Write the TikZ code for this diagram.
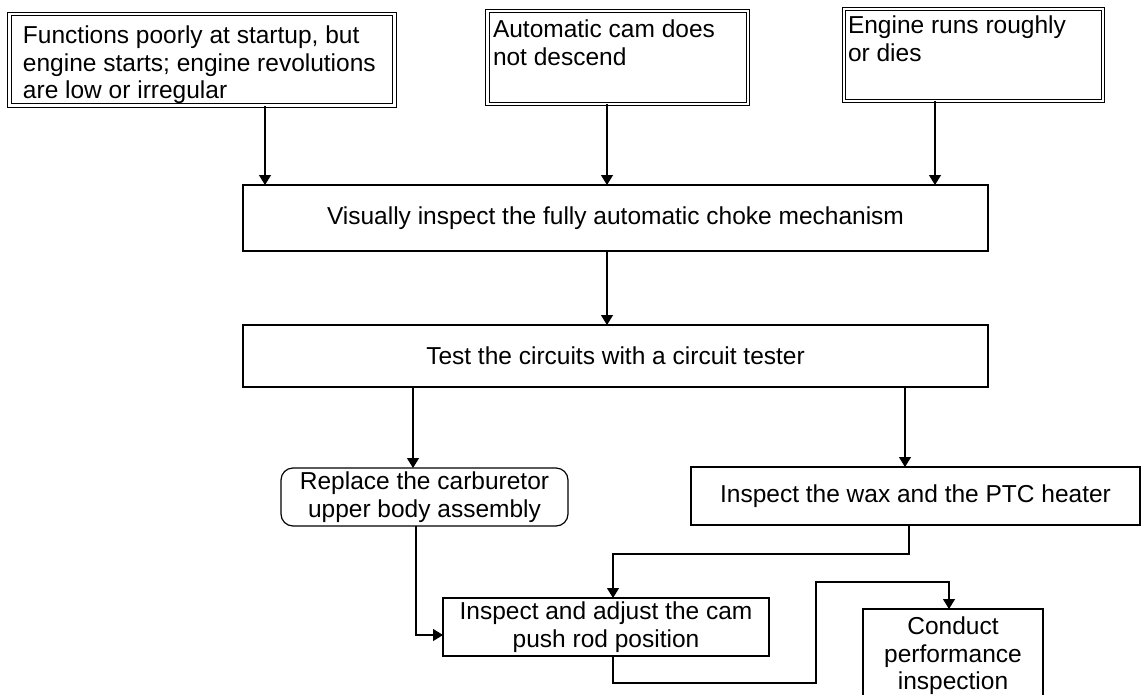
\documentclass[tikz,border=0pt]{standalone}
\usepackage{fontspec}
\setmainfont{Liberation Sans}
\usetikzlibrary{arrows.meta}
\begin{document}
\begin{tikzpicture}[x=1pt,y=-1pt,
  every node/.style={font=\fontsize{24.5}{27.5}\selectfont, inner sep=0pt, outer sep=0pt},
  dbox/.style={draw, line width=0.95pt, double, double distance=2.8pt},
  sbox/.style={draw, line width=1.2pt},
  rbox/.style={draw, line width=1.2pt, rounded corners=12pt},
  arr/.style={line width=1.2pt, -{Triangle[width=12pt,length=10pt]}},
  lin/.style={line width=1.2pt}]
\useasboundingbox (0,0) rectangle (1141,694);
\clip (0,0) rectangle (1141,694);
% top boxes (double frames)
\node[dbox, minimum width=385pt, minimum height=91.5pt] (A) at (202,59.75) {};
\node[anchor=north west, align=left] (At) at (23,26) {Functions poorly at startup, but\\engine starts; engine revolutions\\are low or irregular};
\node[dbox, minimum width=260.5pt, minimum height=93pt] (B) at (617.75,57.5) {};
\node[anchor=north west, align=left] (Bt) at (493,20) {Automatic cam does\\not descend};
\node[dbox, minimum width=259pt, minimum height=92pt] (C) at (973.5,55) {};
\node[anchor=north west, align=left] (Ct) at (848,16) {Engine runs roughly\\or dies};
% main boxes
\node[sbox, minimum width=745pt, minimum height=66pt] (vis) at (615.5,218) {\raisebox{-2pt}{Visually inspect the fully automatic choke mechanism}};
\node[sbox, minimum width=745pt, minimum height=62pt] (test) at (615.5,356) {\raisebox{-2pt}{Test the circuits with a circuit tester}};
\node[rbox, minimum width=287pt, minimum height=58pt, align=center] (rep) at (424.5,497) {Replace the carburetor\\upper body assembly};
\node[sbox, minimum width=449pt, minimum height=58pt] (wax) at (915.5,496) {\raisebox{-2pt}{Inspect the wax and the PTC heater}};
\node[sbox, minimum width=326pt, minimum height=58pt, align=center] (adj) at (606,627) {Inspect and adjust the cam\\push rod position};
\node[sbox, minimum width=180pt, minimum height=101pt] (cond) at (953,659.5) {};
\node[anchor=north, align=center] (condt) at (953,617) {Conduct\\performance\\inspection};
% connectors
\coordinate (xa) at (265,0);
\coordinate (xb) at (607,0);
\coordinate (xc) at (935,0);
\draw[arr] (A.south -| xa) -- (vis.north -| xa);
\draw[arr] (B.south -| xb) -- (vis.north -| xb);
\draw[arr] (C.south -| xc) -- (vis.north -| xc);
\draw[arr] (vis.south -| xb) -- (test.north -| xb);
\coordinate (xr) at (413,0);
\coordinate (xw) at (905,0);
\draw[arr] (test.south -| xr) -- (rep.north -| xr);
\draw[arr] (test.south -| xw) -- (wax.north -| xw);
\coordinate (k1) at (909,554);
\coordinate (k2) at (613,554);
\draw[arr] (wax.south -| k1) -- (k1) -- (k2) -- (adj.north -| k2);
\coordinate (r1) at (416,635);
\draw[arr] (rep.south -| r1) -- (r1) -- (adj.west |- r1);
\coordinate (c1) at (613,683);
\coordinate (c2) at (816,683);
\coordinate (c3) at (816,582);
\coordinate (c4) at (949,582);
\draw[arr] (adj.south -| c1) -- (c1) -- (c2) -- (c3) -- (c4) -- (cond.north -| c4);
\end{tikzpicture}
\end{document}
